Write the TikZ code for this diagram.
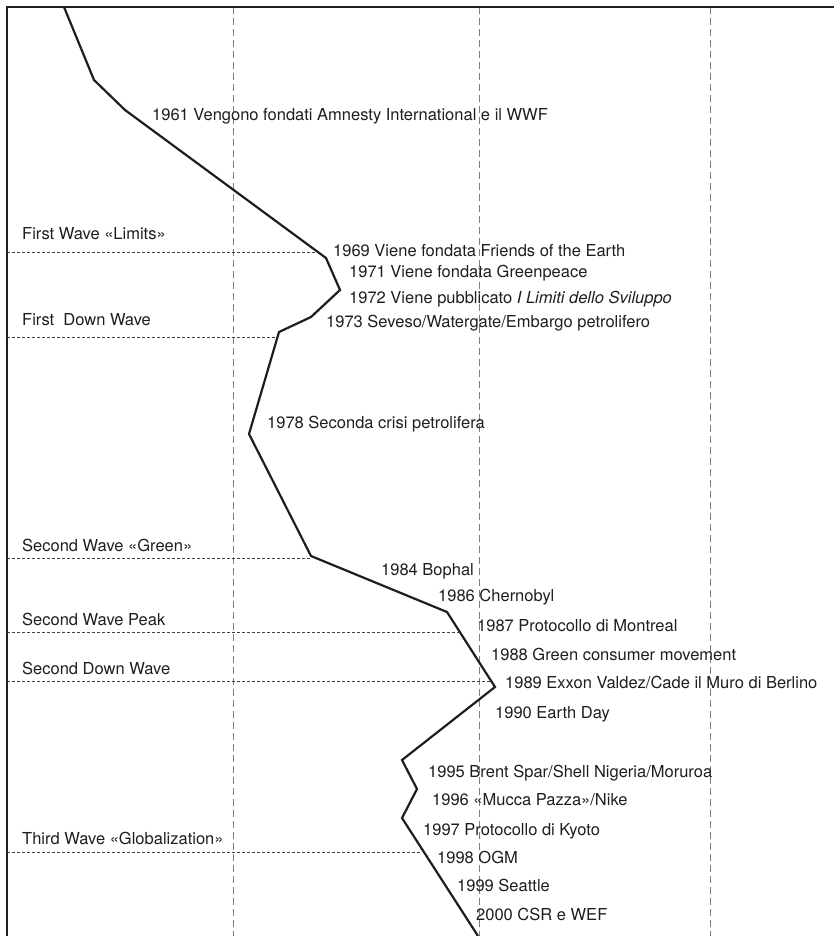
\documentclass[tikz,border=0pt]{standalone}
\usepackage{fontspec}
\setmainfont{TeX Gyre Heros}
\usepackage{tikz}
\definecolor{inkgray}{RGB}{30,30,30}
\definecolor{gridgray}{RGB}{125,125,125}

\begin{document}
\begin{tikzpicture}[
  x=1pt, y=-1pt,
  font=\fontsize{16.5}{19}\selectfont,
  ev/.style={anchor=base west, inner sep=0pt, text=inkgray},
  wavelbl/.style={anchor=base west, inner sep=0pt, text=inkgray},
  vline/.style={draw=gridgray, line width=0.9pt, dash pattern=on 7pt off 4pt},
  waveline/.style={draw=inkgray!85, line width=0.7pt, dash pattern=on 3pt off 2pt},
  trend/.style={draw=inkgray, line width=2.2pt},
  axisline/.style={draw=inkgray, line width=2.5pt}
]
\useasboundingbox (0,0) rectangle (834,936);

\foreach \gx in {233,479,710}
  \draw[vline] (\gx,7) -- (\gx,936);

\coordinate (corner) at (7,7);
\coordinate (right) at (834,7);
\coordinate (foot) at (7,936);
\draw[axisline] (right) -- (corner) -- (foot);

\coordinate (t61a) at (64,7);
\coordinate (t61b) at (94,80);
\coordinate (t61) at (125,110);
\coordinate (t69) at (326,258);
\coordinate (t71) at (340,290);
\coordinate (t72) at (311,317);
\coordinate (t73) at (279,332);
\coordinate (t78) at (249,434);
\coordinate (t84) at (311,556);
\coordinate (t86) at (447,612);
\coordinate (t89) at (495,687);
\coordinate (t95) at (402,760);
\coordinate (t96) at (417,789);
\coordinate (t97) at (402,818);
\coordinate (t00) at (478,936);

\draw[trend] (t61a) -- (t61b) -- (t61) -- (t69) -- (t71) -- (t72) -- (t73)
  -- (t78) -- (t84) -- (t86) -- (t89) -- (t95) -- (t96) -- (t97) -- (t00);

\coordinate (w1) at (7,252);    \coordinate (w1e) at (318,252);
\coordinate (w2) at (7,337.5);  \coordinate (w2e) at (278,337.5);
\coordinate (w3) at (7,558);    \coordinate (w3e) at (311,558);
\coordinate (w4) at (7,632.5);  \coordinate (w4e) at (460,632.5);
\coordinate (w5) at (7,681);    \coordinate (w5e) at (491,681);
\coordinate (w6) at (7,852);    \coordinate (w6e) at (422,852);
\foreach \w in {1,...,6}
  \draw[waveline] (w\w) -- (w\w e);

\node[wavelbl] (lim) at (22,239) {First Wave «Limits»};
\node[wavelbl] (dw1) at (22,325) {First\ \ Down Wave};
\node[wavelbl] (grn) at (22,551.5) {Second Wave «Green»};
\node[wavelbl] (pk2) at (22,625) {Second Wave Peak};
\node[wavelbl] (dw2) at (22,674) {Second Down Wave};
\node[wavelbl] (glb) at (22,844) {Third Wave «Globalization»};

\node[ev] (e61) at (152,120.7) {1961 Vengono fondati Amnesty International e il WWF};
\node[ev] (e69) at (333,256) {1969 Viene fondata Friends of the Earth};
\node[ev] (e71) at (349,277) {1971 Viene fondata Greenpeace};
\node[ev] (e72) at (349,303) {1972 Viene pubblicato \textit{I Limiti dello Sviluppo}};
\node[ev] (e73) at (326,327) {1973 Seveso/Watergate/Embargo petrolifero};
\node[ev] (e78) at (267,428) {1978 Seconda crisi petrolifera};
\node[ev] (e84) at (381,575) {1984 Bophal};
\node[ev] (e86) at (438,601.5) {1986 Chernobyl};
\node[ev] (e87) at (477,631.5) {1987 Protocollo di Montreal};
\node[ev] (e88) at (491,660) {1988 Green consumer movement};
\node[ev] (e89) at (505,688) {1989 Exxon Valdez/Cade il Muro di Berlino};
\node[ev] (e90) at (495,718) {1990 Earth Day};
\node[ev] (e95) at (428,777) {1995 Brent Spar/Shell Nigeria/Moruroa};
\node[ev] (e96) at (432,805.5) {1996 «Mucca Pazza»/Nike};
\node[ev] (e97) at (423,835) {1997 Protocollo di Kyoto};
\node[ev] (e98) at (437,863) {1998 OGM};
\node[ev] (e99) at (457,891.5) {1999 Seattle};
\node[ev] (e00) at (476,920.5) {2000 CSR e WEF};
\end{tikzpicture}
\end{document}
